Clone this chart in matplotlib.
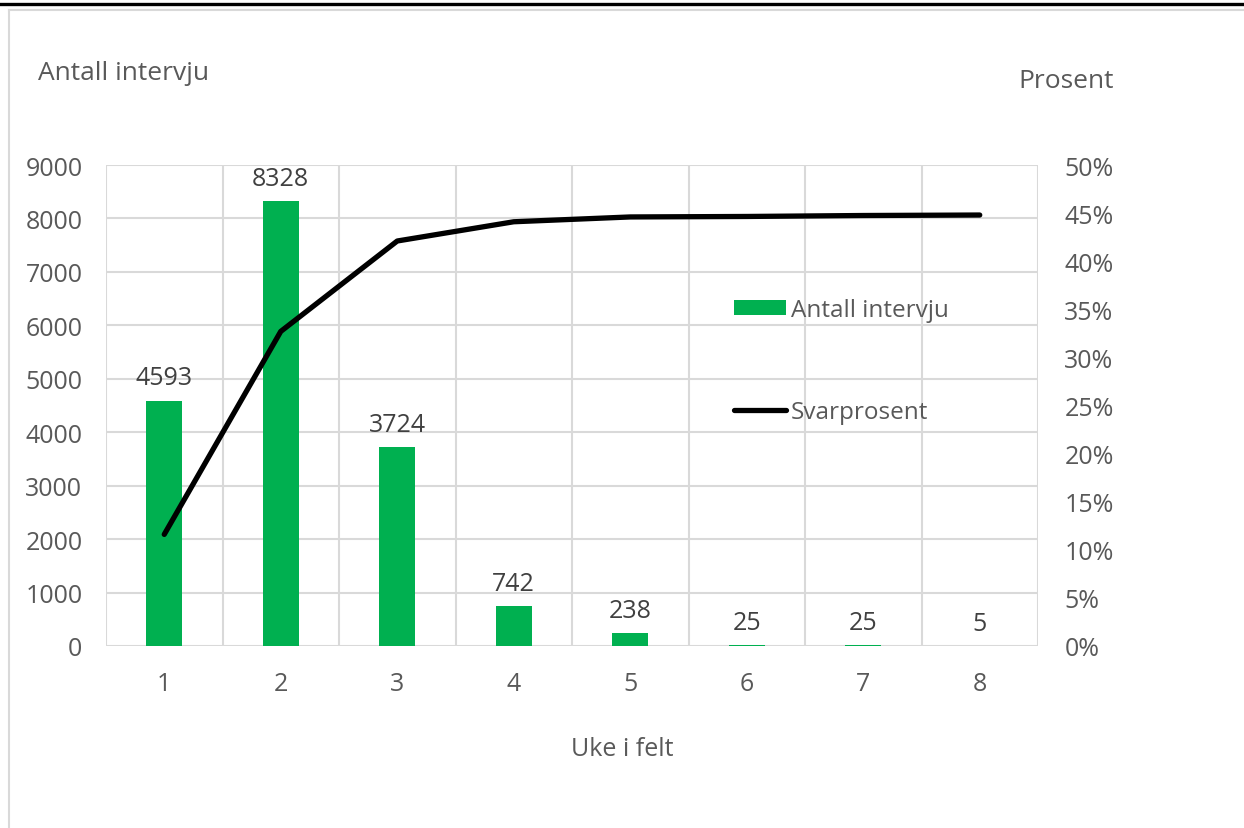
import numpy as np
import matplotlib.pyplot as plt
from matplotlib.lines import Line2D
from matplotlib.patches import Patch

plt.rcParams['font.family'] = ['Open Sans', 'DejaVu Sans']

uker = [1, 2, 3, 4, 5, 6, 7, 8]
antall = [4593, 8328, 3724, 742, 238, 25, 25, 5]
svarprosent = [11.6, 32.7, 42.1, 44.1, 44.6, 44.65, 44.75, 44.8]

green = '#00b050'
txt = '#595959'
grid = '#d9d9d9'
fs = 18

fig = plt.figure(figsize=(12.44, 8.29), dpi=100)
ax = fig.add_axes([106/1244, 1-647/829, (1038-106)/1244, (647-166)/829])
ax2 = ax.twinx()

ax.bar(uker, antall, width=0.31, color=green, zorder=2)
for x, v in zip(uker, antall):
    ax.text(x, v + 190, str(v), ha='center', va='bottom', fontsize=fs, color='#404040')

ax2.plot(uker, svarprosent, color='black', lw=3.8, solid_capstyle='round', solid_joinstyle='round', zorder=3)

ax.set_xlim(0.5, 8.5)
ax.set_ylim(0, 9000)
ax.set_yticks(range(0, 9001, 1000))
ax2.set_ylim(0, 50)
ax2.set_yticks(range(0, 51, 5))
ax2.set_yticklabels([f'{p}%' for p in range(0, 51, 5)])
ax.set_xticks(uker)
ax.set_xticks(np.arange(0.5, 9, 1), minor=True)

ax.grid(axis='y', color=grid, lw=1.5, zorder=0)
ax.grid(axis='x', which='minor', color=grid, lw=1.5, zorder=0)
ax.set_axisbelow(True)
for a in (ax, ax2):
    for s in a.spines.values():
        s.set_visible(False)
    a.tick_params(length=0, labelsize=fs, labelcolor=txt, which='both')
ax.tick_params(axis='y', pad=17)
ax.tick_params(axis='x', pad=18)
ax2.tick_params(axis='y', pad=19)

fig.text(38/1244, 1-73/829, 'Antall intervju', fontsize=19, color=txt, va='center')
fig.text(1018/1244, 1-82/829, 'Prosent', fontsize=19, color=txt, va='center')
fig.text(622/1244, 1-750/829, 'Uke i felt', fontsize=fs, color=txt, va='center', ha='center')

handles = [Patch(facecolor=green, edgecolor='none'),
           Line2D([0], [0], color='black', lw=3.8, solid_capstyle='round')]
ax2.legend(handles, ['Antall intervju', 'Svarprosent'], loc='upper left',
           bbox_to_anchor=((734-106)/932, 1-(299-166)/481), frameon=False,
           fontsize=17.5, labelcolor=txt, handlelength=2.15, handleheight=0.6,
           handletextpad=0.2, labelspacing=3.2, borderpad=0, borderaxespad=0)

fig.add_artist(Line2D([0, 1], [1-5/829, 1-5/829], color='black', lw=2.4, transform=fig.transFigure))
fig.add_artist(Line2D([9/1244, 1], [1-11/829, 1-11/829], color=grid, lw=1.5, transform=fig.transFigure))
fig.add_artist(Line2D([9/1244, 9/1244], [0, 1-11/829], color=grid, lw=1.5, transform=fig.transFigure))

fig.savefig('out.png', dpi=100)
